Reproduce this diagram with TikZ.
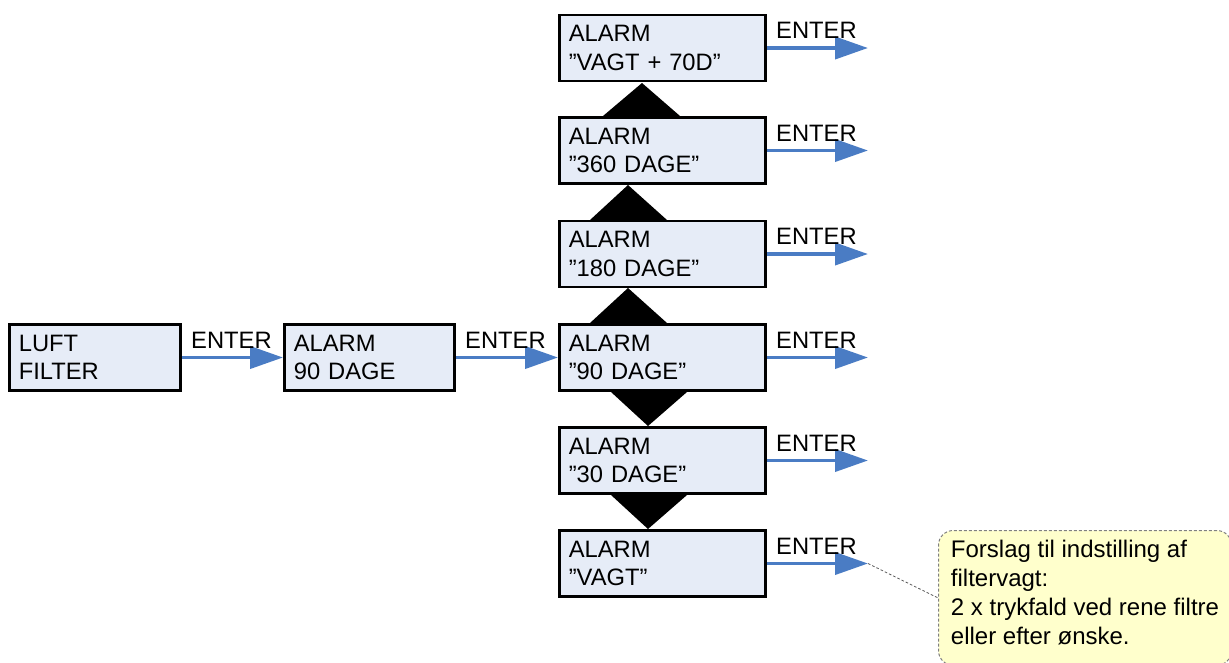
\documentclass[tikz,border=0pt]{standalone}
\usepackage{fontspec}
\setmainfont{Liberation Sans}
\usetikzlibrary{arrows.meta,calc}
\definecolor{boxfill}{HTML}{E6ECF7}
\definecolor{arrowblue}{HTML}{4A7CC4}
\definecolor{notefill}{HTML}{FFFFCC}
\definecolor{notegray}{HTML}{808080}
\begin{document}
\begin{tikzpicture}[x=0.75pt,y=-0.75pt,
  every node/.style={font=\fontsize{17.8pt}{21.4pt}\selectfont},
  menubox/.style={draw=black, line width=2.2pt, fill=boxfill, align=left,
    inner xsep=7pt, inner ysep=0pt, minimum height=49.5pt, text width=#1},
  enterarrow/.style={draw=arrowblue, line width=2.9pt,
    -{Triangle[length=24.75pt,width=16.5pt]}},
  enterlbl/.style={inner sep=0pt, anchor=base west},
  keytri/.style={fill=black},
  notebox/.style={draw=notegray, line width=0.75pt, dash pattern=on 2.25pt off 1.5pt,
    fill=notefill, rounded corners=11pt, align=left, inner xsep=7.5pt, inner ysep=7.5pt,
    text height=78.35pt, text depth=7.75pt, font=\fontsize{18pt}{21.75pt}\selectfont},
  notelink/.style={draw=notegray!70!black, line width=0.6pt, dash pattern=on 2pt off 1.5pt}]
\useasboundingbox (0,0) rectangle (1229,662);
\clip (0,0) rectangle (1229,662);

% boxes
\node[menubox=114.25pt] (luft) at (95,357.5) {LUFT\\FILTER};
\node[menubox=113.5pt] (a90) at (369.5,357.5) {ALARM\\90 DAGE};
\node[menubox=140.5pt] (c1) at (662.5,48) {ALARM\\”VAGT + 70D”};
\node[menubox=140.5pt] (c2) at (662.5,150.5) {ALARM\\”360 DAGE”};
\node[menubox=140.5pt] (c3) at (662.5,254) {ALARM\\”180 DAGE”};
\node[menubox=140.5pt] (c4) at (662.5,357.5) {ALARM\\”90 DAGE”};
\node[menubox=140.5pt] (c5) at (662.5,460.5) {ALARM\\”30 DAGE”};
\node[menubox=140.5pt] (c6) at (662.5,563.5) {ALARM\\”VAGT”};

% up / down key triangles
\fill[keytri] (642,83) -- (603,116) -- (680,116) -- cycle;
\fill[keytri] (628,185) -- (590,220) -- (667,220) -- cycle;
\fill[keytri] (628,288) -- (590,323) -- (667,323) -- cycle;
\fill[keytri] (611,392) -- (687,392) -- (648,426) -- cycle;
\fill[keytri] (611,495) -- (687,495) -- (648,529) -- cycle;

% arrow ends
\coordinate (e1) at (868,48);
\coordinate (e2) at (868,150.5);
\coordinate (e3) at (868,254);
\coordinate (e4) at (868,357.5);
\coordinate (e5) at (868,460.5);
\coordinate (e6) at (868,563.5);

% arrows
\draw[enterarrow] (luft) -- (a90);
\draw[enterarrow] (a90) -- (c4);
\draw[enterarrow] (c1) -- (e1);
\draw[enterarrow] (c2) -- (e2);
\draw[enterarrow] (c3) -- (e3);
\draw[enterarrow] (c4) -- (e4);
\draw[enterarrow] (c5) -- (e5);
\draw[enterarrow] (c6) -- (e6);

% labels
\node[enterlbl] (l0) at ($(luft.east)+(9,-9.5)$) {ENTER};
\node[enterlbl] (l1) at ($(a90.east)+(9,-9.5)$) {ENTER};
\node[enterlbl] (m1) at ($(c1.east)+(9,-9.5)$) {ENTER};
\node[enterlbl] (m2) at ($(c2.east)+(9,-9.5)$) {ENTER};
\node[enterlbl] (m3) at ($(c3.east)+(9,-9.5)$) {ENTER};
\node[enterlbl] (m4) at ($(c4.east)+(9,-9.5)$) {ENTER};
\node[enterlbl] (m5) at ($(c5.east)+(9,-9.5)$) {ENTER};
\node[enterlbl] (m6) at ($(c6.east)+(9,-9.5)$) {ENTER};

% note
\node[notebox, anchor=north west, minimum width=219.75pt] (note) at (938,530)
  {Forslag til indstilling af\\filtervagt:\\2 x trykfald ved rene filtre\\eller efter ønske.};
\draw[notelink] (e6) -- (note.west);
\end{tikzpicture}
\end{document}
